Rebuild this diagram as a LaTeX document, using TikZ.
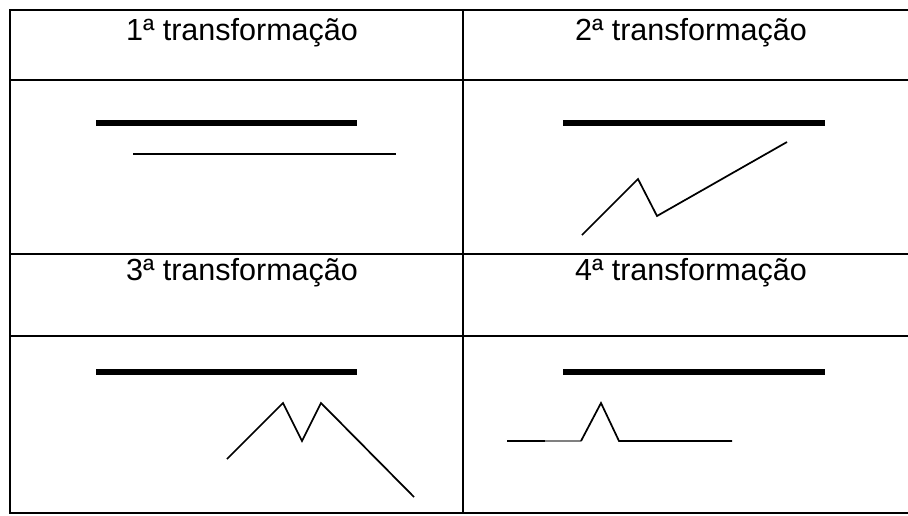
\documentclass[tikz,border=0pt]{standalone}
\usepackage{fontspec}
\setmainfont{Liberation Sans}
\usetikzlibrary{positioning}

\begin{document}
\begin{tikzpicture}[
  x=0.75pt, y=-0.75pt,
  grid/.style={line width=1.5pt},
  bar/.style={line width=4pt},
  thin/.style={line width=1.3pt, line join=miter},
  head/.style={font=\fontsize{22.9}{27}\selectfont, anchor=base, inner sep=0pt},
]
\useasboundingbox (0,0) rectangle (908,515);

% table
\draw[grid] (908,10) -- (10,10) -- (10,513) -- (908,513);
\draw[grid] (10,80) -- (908,80);
\draw[grid] (10,254) -- (908,254);
\draw[grid] (10,336) -- (908,336);
\draw[grid] (463,10) -- (463,513);

% headers
\node[head] (t1) at (242,40) {1ª transformação};
\node[head] (t2) at (691,40) {2ª transformação};
\node[head] (t3) at (242,280) {3ª transformação};
\node[head] (t4) at (691,280) {4ª transformação};

% 1st
\draw[bar] (96,123) -- (357,123);
\draw[thin] (133,154) -- (396,154);

% 2nd
\draw[bar] (563,123) -- (825,123);
\draw[thin] (582,235) -- (638,179) -- (657,216) -- (787,142);

% 3rd
\draw[bar] (96,372) -- (357,372);
\draw[thin] (227,459) -- (283,403) -- (302,441) -- (321,403) -- (414,497);

% 4th
\draw[bar] (563,372) -- (825,372);
\draw[thin] (507,441) -- (545,441);
\draw[thin, gray] (545,441) -- (581,441);
\draw[thin] (581,441) -- (601,403) -- (619,441) -- (732,441);
\end{tikzpicture}
\end{document}
